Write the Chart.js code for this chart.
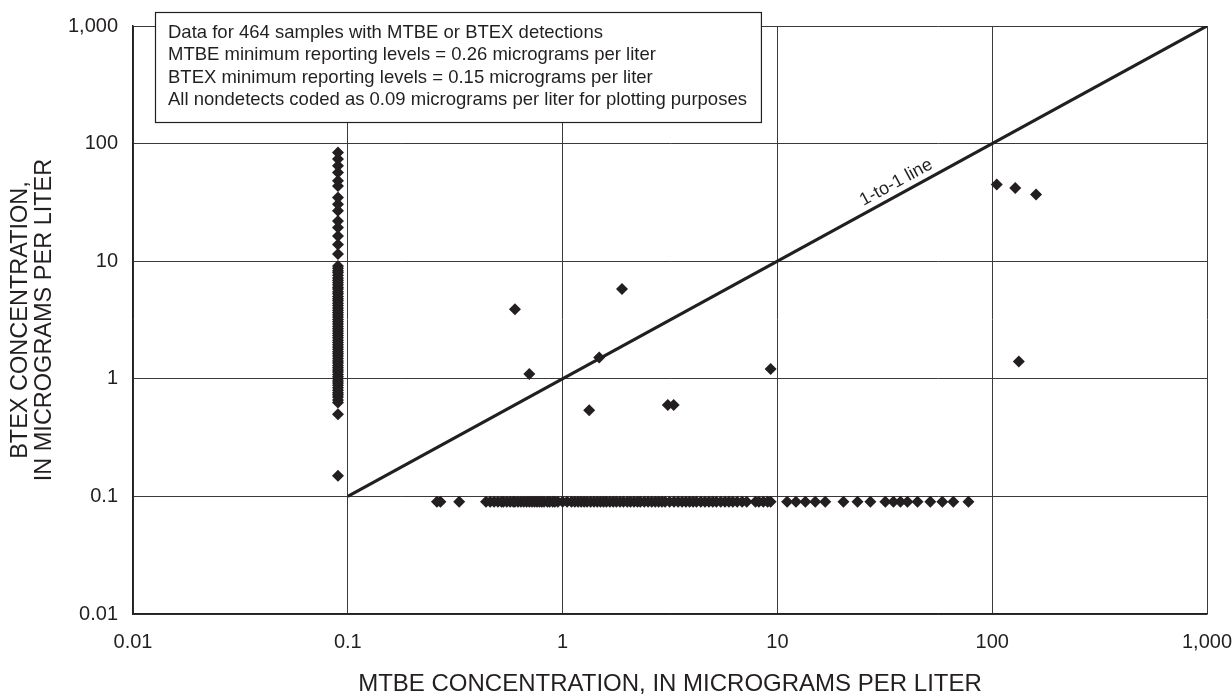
<!DOCTYPE html>
<html>
<head>
<meta charset="utf-8">
<script src="https://cdn.jsdelivr.net/npm/chart.js@4.4.1/dist/chart.umd.min.js"></script>
<style>
  html, body { margin: 0; padding: 0; background: #fff; }
  #wrap { width: 1232px; height: 698px; }
</style>
</head>
<body>
<div id="wrap"><canvas id="chart" width="1232" height="698"></canvas></div>
<script>
// axis ticks (log-log, decades only)
const tickValues = [0.01, 0.1, 1, 10, 100, 1000];
const tickLabels = ['0.01', '0.1', '1', '10', '100', '1,000'];

// nondetects are plotted at 0.09
const nondetectValue = 0.09;

// BTEX detected, MTBE not detected (vertical column at x = 0.09)
const btexWithMtbeNondetect = [
  0.15, 0.5, 0.63, 0.66, 0.7, 0.73, 0.76, 0.8, 0.84, 0.88, 0.92, 0.96,
  1.0, 1.04, 1.09, 1.14, 1.19, 1.24, 1.3, 1.36, 1.42, 1.49, 1.56, 1.63,
  1.7, 1.78, 1.86, 1.95, 2.04, 2.13, 2.23, 2.33, 2.44, 2.55, 2.67, 2.79,
  2.92, 3.05, 3.2, 3.35, 3.5, 3.66, 3.83, 4.0, 4.2, 4.4, 4.6, 4.8,
  5.0, 5.3, 5.5, 5.8, 6.0, 6.3, 6.6, 6.9, 7.2, 7.6, 8.0, 8.3, 8.7, 9.1,
  11.5, 13.9, 16.4, 19.3, 22.0, 26.8, 30.5, 34.8, 43.7, 48.2, 56.9,
  64.7, 73.8, 84.1
];

// MTBE detected, BTEX not detected (horizontal row at y = 0.09)
const mtbeWithBtexNondetect = [
  0.26, 0.27, 0.33, 0.44, 0.46, 0.48, 0.5, 0.52, 0.53, 0.55, 0.57, 0.59,
  0.6, 0.62, 0.64, 0.66, 0.68, 0.7, 0.72, 0.74, 0.76, 0.78, 0.8, 0.82,
  0.85, 0.87, 0.9, 0.92, 0.95, 1.0, 1.05, 1.1, 1.14, 1.18, 1.22, 1.26,
  1.3, 1.35, 1.4, 1.45, 1.5, 1.55, 1.6, 1.66, 1.72, 1.78, 1.85, 1.92,
  2.0, 2.07, 2.15, 2.23, 2.3, 2.4, 2.5, 2.6, 2.7, 2.8, 2.9, 3.0,
  3.15, 3.3, 3.45, 3.6, 3.75, 3.9, 4.05, 4.2, 4.4, 4.6, 4.8, 5.0,
  5.2, 5.45, 5.7, 5.95, 6.2, 6.5, 6.85, 7.2, 7.9, 8.2, 8.6, 9.0, 9.3,
  11.1, 12.2, 13.5, 15.0, 16.7, 20.3, 23.6, 27.1, 31.8, 34.7, 37.4,
  40.3, 44.9, 51.5, 58.6, 65.9, 77.5
];

// both MTBE and BTEX detected
const bothMtbe = [0.6, 0.7, 1.33, 1.48, 1.89, 3.09, 3.29, 9.3, 105, 128, 160, 133];
const bothBtex = [3.9, 1.1, 0.54, 1.52, 5.8, 0.6, 0.6, 1.21, 45, 42, 37, 1.4];

// 1-to-1 reference line
const oneToOne = [0.1, 1000];
const oneToOneLabel = '1-to-1 line';
const oneToOneLabelAt = 38;

const noteLines = [
  'Data for 464 samples with MTBE or BTEX detections',
  'MTBE minimum reporting levels = 0.26 micrograms per liter',
  'BTEX minimum reporting levels = 0.15 micrograms per liter',
  'All nondetects coded as 0.09 micrograms per liter for plotting purposes'
];

const FONT = '"Liberation Sans", Arial, Helvetica, sans-serif';
const INK = '#231f20';

// 註記方塊 + 1-to-1 標籤
const notePlugin = {
  id: 'notes',
  afterDatasetsDraw(chart) {
    const ctx = chart.ctx;
    const xs = chart.scales.x, ys = chart.scales.y;
    const x0 = xs.getPixelForValue(oneToOne[0]), y0 = ys.getPixelForValue(oneToOne[0]);
    const x1 = xs.getPixelForValue(oneToOne[1]), y1 = ys.getPixelForValue(oneToOne[1]);
    const ang = Math.atan2(y1 - y0, x1 - x0);
    ctx.save();
    ctx.translate(xs.getPixelForValue(oneToOneLabelAt), ys.getPixelForValue(oneToOneLabelAt));
    ctx.rotate(ang);
    ctx.font = '18px ' + FONT;
    ctx.fillStyle = INK;
    ctx.textAlign = 'center';
    ctx.textBaseline = 'alphabetic';
    ctx.fillText(oneToOneLabel, 0, -7);
    ctx.restore();
  },
  afterDraw(chart) {
    const ctx = chart.ctx;
    const area = chart.chartArea;
    ctx.save();
    ctx.font = '18.5px ' + FONT;
    let w = 0;
    noteLines.forEach(t => { w = Math.max(w, ctx.measureText(t).width); });
    const left = area.left + 22, top = area.top - 14;
    const boxW = w + 27, boxH = 110;
    ctx.fillStyle = '#fff';
    ctx.fillRect(left, top, boxW, boxH);
    ctx.strokeStyle = INK;
    ctx.lineWidth = 1.2;
    ctx.strokeRect(left + 0.5, top + 0.5, boxW, boxH);
    ctx.fillStyle = INK;
    ctx.textBaseline = 'alphabetic';
    noteLines.forEach((t, i) => ctx.fillText(t, left + 13, top + 26 + i * 22.3));
    ctx.restore();
  }
};

const pointStyle = {
  pointStyle: 'rectRot',
  pointRadius: 6,
  pointHoverRadius: 6,
  pointBorderWidth: 0,
  backgroundColor: INK,
  borderColor: INK,
  showLine: false
};

function decadeTicks(scale) {
  scale.ticks = tickValues.map(v => ({ value: v }));
}

new Chart(document.getElementById('chart'), {
  type: 'scatter',
  data: {
    datasets: [
      Object.assign({ data: btexWithMtbeNondetect.map(v => ({ x: nondetectValue, y: v })), order: 1 }, pointStyle),
      Object.assign({ data: mtbeWithBtexNondetect.map(v => ({ x: v, y: nondetectValue })), order: 1 }, pointStyle),
      Object.assign({ data: bothMtbe.map((v, i) => ({ x: v, y: bothBtex[i] })), order: 1 }, pointStyle),
      {
        data: oneToOne.map(v => ({ x: v, y: v })),
        showLine: true,
        borderColor: INK,
        borderWidth: 3.2,
        pointRadius: 0,
        fill: false,
        order: 5
      }
    ]
  },
  options: {
    responsive: false,
    animation: false,
    devicePixelRatio: 1,
    layout: { padding: { top: 26, right: 25, left: 0, bottom: 0 } },
    plugins: { legend: { display: false }, tooltip: { enabled: false } },
    scales: {
      x: {
        type: 'logarithmic',
        min: 0.01,
        max: 1000,
        afterBuildTicks: decadeTicks,
        afterFit(scale) { scale.height = 84; scale.paddingLeft = 0; scale.paddingRight = 0; },
        grid: { color: '#3a3a3a', lineWidth: 1, drawTicks: false },
        border: { display: true, color: INK, width: 1.5 },
        ticks: {
          autoSkip: false,
          maxRotation: 0,
          padding: 16,
          color: INK,
          font: { family: FONT, size: 20 },
          callback: (v, i) => tickLabels[i]
        },
        title: {
          display: true,
          text: 'MTBE CONCENTRATION, IN MICROGRAMS PER LITER',
          color: INK,
          font: { family: FONT, size: 24, lineHeight: 1.1 },
          padding: { top: 0, bottom: 0 }
        }
      },
      y: {
        type: 'logarithmic',
        min: 0.01,
        max: 1000,
        afterBuildTicks: decadeTicks,
        afterFit(scale) { scale.width = 133; scale.paddingTop = 0; scale.paddingBottom = 0; },
        grid: { color: '#3a3a3a', lineWidth: 1, drawTicks: false },
        border: { display: true, color: INK, width: 1.5 },
        ticks: {
          autoSkip: false,
          padding: 15,
          color: INK,
          font: { family: FONT, size: 20 },
          callback: (v, i) => tickLabels[i]
        },
        title: {
          display: true,
          text: ['BTEX CONCENTRATION,', 'IN MICROGRAMS PER LITER'],
          color: INK,
          font: { family: FONT, size: 23.5, lineHeight: 1.02 },
          padding: { top: 8.5, bottom: 0 }
        }
      }
    }
  },
  plugins: [notePlugin]
});
</script>
</body>
</html>
